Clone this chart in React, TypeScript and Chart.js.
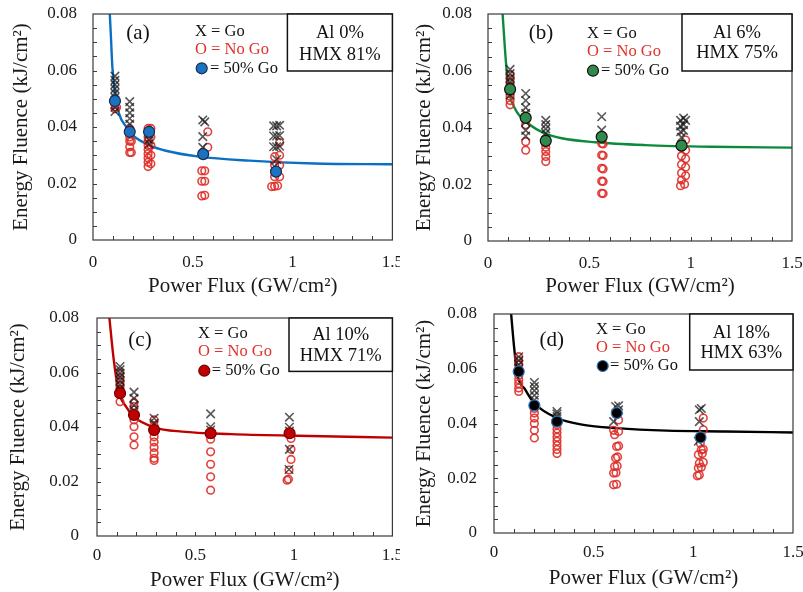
import React, { useEffect, useRef } from "react";
import { Chart, registerables } from "chart.js";
Chart.register(...registerables);

type P = [number, number];

const FONT = '"Liberation Serif", "Times New Roman", serif';
const X_TITLE = "Power Flux (GW/cm²)";
const Y_TITLE = "Energy Fluence (kJ/cm²)";
const X_TICKS = [0, 0.5, 1, 1.5];
const Y_TICKS = [0, 0.02, 0.04, 0.06, 0.08];
const LEGEND_LINES = ["X = Go", "O = No Go", "= 50% Go"];

// ---------- Panel (a) Al 0% / HMX 81% ----------
const goA: P[] = [
  [0.11, 0.058], [0.11, 0.0565], [0.11, 0.055], [0.11, 0.0535], [0.11, 0.052], [0.11, 0.0505], [0.11, 0.047], [0.11, 0.0455],
  [0.184, 0.049], [0.184, 0.047], [0.184, 0.045], [0.184, 0.043], [0.184, 0.041],
  [0.281, 0.0375], [0.281, 0.0355], [0.281, 0.034],
  [0.55, 0.0425], [0.56, 0.0418], [0.55, 0.0366], [0.55, 0.0328],
  [0.905, 0.0404], [0.92, 0.0404], [0.935, 0.0406], [0.905, 0.0368], [0.92, 0.0368], [0.935, 0.037],
  [0.905, 0.033], [0.92, 0.033], [0.935, 0.0332], [0.92, 0.0285], [0.91, 0.026],
];
const noGoA: P[] = [
  [0.11, 0.0495], [0.11, 0.048], [0.11, 0.0465], [0.118, 0.047],
  [0.184, 0.0395], [0.184, 0.038], [0.184, 0.0365], [0.184, 0.035], [0.184, 0.033], [0.184, 0.031], [0.192, 0.035], [0.192, 0.031],
  [0.276, 0.0395], [0.276, 0.038], [0.276, 0.0365], [0.276, 0.035], [0.276, 0.0335], [0.276, 0.032], [0.276, 0.0305],
  [0.276, 0.029], [0.276, 0.0275], [0.276, 0.026], [0.29, 0.0395], [0.29, 0.0365], [0.29, 0.0335], [0.29, 0.03], [0.29, 0.027],
  [0.575, 0.0383], [0.575, 0.0328], [0.55, 0.031], [0.545, 0.0245], [0.56, 0.0245], [0.545, 0.0208], [0.56, 0.0208],
  [0.545, 0.0156], [0.56, 0.0158],
  [0.91, 0.0295], [0.935, 0.0345], [0.935, 0.03], [0.91, 0.0265], [0.935, 0.0265], [0.91, 0.0224], [0.935, 0.0224],
  [0.895, 0.0189], [0.91, 0.019], [0.925, 0.0192],
];
const fiftyA: P[] = [[0.11, 0.0492], [0.184, 0.0383], [0.281, 0.0383], [0.552, 0.0304], [0.917, 0.0242]];
const curveA: P[] = [
  [0.084, 0.0802], [0.089, 0.0732], [0.097, 0.0613], [0.114, 0.0507], [0.13, 0.0448], [0.166, 0.0401], [0.197, 0.0372],
  [0.281, 0.0336], [0.365, 0.0316], [0.532, 0.0295], [0.783, 0.0281], [1.109, 0.0271], [1.5, 0.0268],
];

// ---------- Panel (b) Al 6% / HMX 75% ----------
const goB: P[] = [
  [0.109, 0.0605], [0.109, 0.059], [0.109, 0.0575], [0.109, 0.056], [0.109, 0.0545], [0.109, 0.053], [0.109, 0.0515],
  [0.186, 0.052], [0.186, 0.0495], [0.186, 0.047], [0.186, 0.045], [0.186, 0.042], [0.186, 0.039], [0.186, 0.037],
  [0.285, 0.0425], [0.285, 0.041], [0.285, 0.0395], [0.285, 0.038],
  [0.561, 0.0438], [0.561, 0.0391],
  [0.95, 0.0425], [0.965, 0.0433], [0.975, 0.0425], [0.95, 0.0405], [0.965, 0.041], [0.95, 0.0385], [0.965, 0.039], [0.955, 0.0365],
];
const noGoB: P[] = [
  [0.109, 0.0585], [0.109, 0.057], [0.109, 0.0555], [0.109, 0.054], [0.109, 0.0525], [0.109, 0.051], [0.109, 0.0495], [0.109, 0.048],
  [0.186, 0.044], [0.186, 0.041], [0.186, 0.035], [0.186, 0.032],
  [0.285, 0.036], [0.285, 0.0345], [0.285, 0.033], [0.285, 0.0315], [0.285, 0.0298], [0.285, 0.028],
  [0.561, 0.0344], [0.568, 0.0342], [0.561, 0.0303], [0.568, 0.0301], [0.561, 0.0256], [0.568, 0.0254],
  [0.561, 0.0211], [0.568, 0.021], [0.561, 0.0168], [0.568, 0.0167],
  [0.975, 0.0356], [0.955, 0.033], [0.975, 0.032], [0.955, 0.03], [0.975, 0.029], [0.955, 0.027], [0.975, 0.026],
  [0.955, 0.024], [0.975, 0.023], [0.955, 0.0215], [0.97, 0.02], [0.95, 0.0195],
];
const fiftyB: P[] = [[0.109, 0.0535], [0.186, 0.0434], [0.285, 0.0353], [0.561, 0.0367], [0.955, 0.0336]];
const curveB: P[] = [
  [0.072, 0.0802], [0.084, 0.0673], [0.1, 0.0543], [0.133, 0.0467], [0.199, 0.0414], [0.281, 0.0379], [0.364, 0.0362],
  [0.528, 0.0348], [0.775, 0.0338], [1.1, 0.0332], [1.5, 0.0329],
];

// ---------- Panel (c) Al 10% / HMX 71% ----------
const goC: P[] = [
  [0.117, 0.0622], [0.117, 0.061], [0.117, 0.0598], [0.117, 0.0585], [0.117, 0.057], [0.117, 0.0555], [0.117, 0.054],
  [0.188, 0.0528], [0.188, 0.0505], [0.188, 0.048], [0.188, 0.0462],
  [0.29, 0.0432], [0.29, 0.0414],
  [0.577, 0.0448], [0.577, 0.0401], [0.577, 0.0389],
  [0.977, 0.0436], [0.977, 0.0399], [0.977, 0.0385], [0.977, 0.0318], [0.975, 0.0244],
];
const noGoC: P[] = [
  [0.117, 0.0598], [0.117, 0.058], [0.117, 0.0565], [0.117, 0.055], [0.117, 0.0535], [0.117, 0.0493],
  [0.188, 0.049], [0.188, 0.0475], [0.188, 0.0426], [0.188, 0.0401], [0.188, 0.0364], [0.188, 0.0334],
  [0.29, 0.0426], [0.29, 0.0405], [0.29, 0.0384], [0.29, 0.0364], [0.29, 0.0345], [0.29, 0.0325], [0.29, 0.0305],
  [0.29, 0.0285], [0.29, 0.0277],
  [0.577, 0.0355], [0.577, 0.0309], [0.577, 0.0263], [0.577, 0.0217], [0.577, 0.0168],
  [0.985, 0.0358], [0.985, 0.0318], [0.985, 0.0281], [0.975, 0.0242], [0.965, 0.0205], [0.972, 0.0208],
];
const fiftyC: P[] = [[0.117, 0.0524], [0.188, 0.0444], [0.29, 0.0389], [0.577, 0.0377], [0.978, 0.0377]];
const curveC: P[] = [
  [0.063, 0.08], [0.083, 0.0659], [0.108, 0.0536], [0.15, 0.0472], [0.188, 0.0437], [0.29, 0.0399], [0.433, 0.0383],
  [0.683, 0.0374], [1.017, 0.0368], [1.5, 0.0361],
];

// ---------- Panel (d) Al 18% / HMX 63% ----------
const goD: P[] = [
  [0.124, 0.0644], [0.124, 0.063], [0.124, 0.0615], [0.124, 0.06],
  [0.2025, 0.055], [0.2025, 0.0535], [0.2025, 0.052], [0.2025, 0.0503], [0.2025, 0.0486],
  [0.316, 0.0444], [0.316, 0.0435], [0.316, 0.0425],
  [0.61, 0.0462], [0.625, 0.0465], [0.625, 0.045], [0.6, 0.0407],
  [1.03, 0.045], [1.04, 0.0455], [1.03, 0.0407], [1.025, 0.0335],
];
const noGoD: P[] = [
  [0.124, 0.0644], [0.124, 0.063], [0.124, 0.0615], [0.124, 0.0575], [0.124, 0.056], [0.124, 0.0545], [0.124, 0.053], [0.124, 0.0517],
  [0.2025, 0.0455], [0.2025, 0.0438], [0.2025, 0.042], [0.2025, 0.04], [0.2025, 0.0375], [0.2025, 0.0347],
  [0.316, 0.0395], [0.316, 0.038], [0.316, 0.0365], [0.316, 0.035], [0.316, 0.0335], [0.316, 0.032], [0.316, 0.0305], [0.316, 0.029],
  [0.625, 0.0413], [0.6, 0.0375], [0.625, 0.0371], [0.605, 0.0359], [0.615, 0.0316], [0.625, 0.0318], [0.61, 0.0274],
  [0.62, 0.0278], [0.605, 0.0243], [0.618, 0.0245], [0.6, 0.0219], [0.612, 0.022], [0.6, 0.0176], [0.615, 0.0178],
  [1.05, 0.042], [1.05, 0.0377], [1.035, 0.0328], [1.04, 0.0304], [1.05, 0.0306], [1.025, 0.0286], [1.045, 0.029],
  [1.03, 0.0255], [1.05, 0.0258], [1.025, 0.0237], [1.04, 0.024], [1.02, 0.0209], [1.03, 0.0212],
];
const fiftyD: P[] = [[0.124, 0.059], [0.2025, 0.0466], [0.316, 0.0407], [0.616, 0.0438], [1.036, 0.0349]];
const curveD: P[] = [
  [0.086, 0.08], [0.099, 0.0693], [0.116, 0.0584], [0.1575, 0.0523], [0.2025, 0.0474], [0.316, 0.042], [0.449, 0.0395],
  [0.616, 0.0383], [0.866, 0.0374], [1.158, 0.0371], [1.5, 0.0367],
];

const labelA = ["(a)", "Al 0%", "HMX 81%"];
const labelB = ["(b)", "Al 6%", "HMX 75%"];
const labelC = ["(c)", "Al 10%", "HMX 71%"];
const labelD = ["(d)", "Al 18%", "HMX 63%"];

interface PanelCfg {
  go: P[]; noGo: P[]; fifty: P[]; curve: P[]; labels: string[];
  lineColor: string; fiftyFill: string; fiftyBorder: string;
  left: number; top: number; width: number; height: number;
  yW: number; xH: number; padTop: number; padRight: number;
  yTitlePad: number; xTitlePad: number; yTickPad: number; xTickPad: number;
  tag: [number, number]; legend: [number, number, number]; legCircle: [number, number, number];
  box: [number, number]; boxLines: [number, number];
}

const panels: PanelCfg[] = [
  {
    go: goA, noGo: noGoA, fifty: fiftyA, curve: curveA, labels: labelA,
    lineColor: "#0a70c4", fiftyFill: "#1a72c0", fiftyBorder: "#1c2c4c",
    left: 0, top: 0, width: 400, height: 300, yW: 93, xH: 60, padTop: 14, padRight: 6,
    yTitlePad: 11, xTitlePad: 3, yTickPad: 16, xTickPad: 12,
    tag: [45, 19], legend: [102, 18, 17.5], legCircle: [108.7, 54.3, 117],
    box: [105, 57], boxLines: [19.3, 41],
  },
  {
    go: goB, noGo: noGoB, fifty: fiftyB, curve: curveB, labels: labelB,
    lineColor: "#0b8a3c", fiftyFill: "#2f8a4c", fiftyBorder: "#111111",
    left: 400, top: 0, width: 403, height: 300, yW: 88, xH: 59, padTop: 14, padRight: 11,
    yTitlePad: 14, xTitlePad: 3, yTickPad: 16, xTickPad: 12,
    tag: [53, 19], legend: [99, 19.3, 18.4], legCircle: [105, 56.7, 113],
    box: [110, 57], boxLines: [19.3, 39.3],
  },
  {
    go: goC, noGo: noGoC, fifty: fiftyC, curve: curveC, labels: labelC,
    lineColor: "#c00000", fiftyFill: "#c00000", fiftyBorder: "#700000",
    left: 0, top: 300, width: 400, height: 292, yW: 97, xH: 56, padTop: 18, padRight: 3,
    yTitlePad: 8, xTitlePad: 1, yTickPad: 18, xTickPad: 9,
    tag: [43, 22], legend: [101, 15.3, 18.4], legCircle: [107.3, 52.7, 114.7],
    box: [103.4, 53.4], boxLines: [16.7, 38.4],
  },
  {
    go: goD, noGo: noGoD, fifty: fiftyD, curve: curveD, labels: labelD,
    lineColor: "#000000", fiftyFill: "#000000", fiftyBorder: "#2e75b6",
    left: 400, top: 300, width: 403, height: 292, yW: 94, xH: 59, padTop: 14, padRight: 10,
    yTitlePad: 14, xTitlePad: 3, yTickPad: 17, xTickPad: 9,
    tag: [57.7, 26], legend: [102, 15.3, 18], legCircle: [108.7, 52, 116],
    box: [103.3, 56], boxLines: [19.3, 39.3],
  },
];

const toXY = (arr: P[]) => arr.map(([x, y]) => ({ x, y }));

function Panel({ cfg }: { cfg: PanelCfg }) {
  const ref = useRef<HTMLCanvasElement>(null);
  useEffect(() => {
    const decor = {
      id: "decor",
      beforeDatasetsDraw(chart: any) {
        const { ctx, chartArea: a, scales } = chart;
        ctx.save();
        ctx.strokeStyle = "#3a3a3a";
        ctx.lineWidth = 1;
        ctx.beginPath();
        for (let i = 1; i < 15; i++) {
          const px = Math.round(scales.x.getPixelForValue(i / 10)) + 0.5;
          ctx.moveTo(px, a.bottom);
          ctx.lineTo(px, a.bottom - 4);
        }
        for (let j = 1; j < 16; j++) {
          const py = Math.round(scales.y.getPixelForValue(j * 0.005)) + 0.5;
          ctx.moveTo(a.left, py);
          ctx.lineTo(a.left + 4, py);
        }
        ctx.stroke();
        ctx.restore();
      },
      afterDraw(chart: any) {
        const { ctx, chartArea: a } = chart;
        ctx.save();
        ctx.strokeStyle = "#3a3a3a";
        ctx.lineWidth = 1.2;
        ctx.strokeRect(a.left, a.top, a.right - a.left, a.bottom - a.top);
        // panel tag
        ctx.fillStyle = "#111";
        ctx.textBaseline = "middle";
        ctx.textAlign = "center";
        ctx.font = `21px ${FONT}`;
        ctx.fillText(cfg.labels[0], a.left + cfg.tag[0], a.top + cfg.tag[1]);
        // legend
        ctx.textAlign = "left";
        ctx.font = `16.5px ${FONT}`;
        ctx.fillStyle = "#111";
        ctx.fillText(LEGEND_LINES[0], a.left + cfg.legend[0], a.top + cfg.legend[1]);
        ctx.fillStyle = "#e0312b";
        ctx.fillText(LEGEND_LINES[1], a.left + cfg.legend[0], a.top + cfg.legend[1] + cfg.legend[2]);
        ctx.fillStyle = "#111";
        ctx.fillText(LEGEND_LINES[2], a.left + cfg.legCircle[2], a.top + cfg.legCircle[1]);
        ctx.beginPath();
        ctx.arc(a.left + cfg.legCircle[0], a.top + cfg.legCircle[1], 5.5, 0, Math.PI * 2);
        ctx.fillStyle = cfg.fiftyFill;
        ctx.fill();
        ctx.strokeStyle = cfg.fiftyBorder;
        ctx.lineWidth = 1.2;
        ctx.stroke();
        // composition box
        const bx = a.right - cfg.box[0];
        const by = a.top;
        ctx.fillStyle = "#fff";
        ctx.fillRect(bx, by, cfg.box[0], cfg.box[1]);
        ctx.strokeStyle = "#111";
        ctx.lineWidth = 1.5;
        ctx.strokeRect(bx, by, cfg.box[0], cfg.box[1]);
        ctx.fillStyle = "#111";
        ctx.textAlign = "center";
        ctx.font = `18.5px ${FONT}`;
        ctx.fillText(cfg.labels[1], bx + cfg.box[0] / 2, by + cfg.boxLines[0]);
        ctx.fillText(cfg.labels[2], bx + cfg.box[0] / 2, by + cfg.boxLines[1]);
        ctx.restore();
      },
    };

    const chart = new Chart(ref.current as HTMLCanvasElement, {
      type: "scatter",
      data: {
        datasets: [
          {
            label: "fit",
            data: toXY(cfg.curve),
            showLine: true,
            borderColor: cfg.lineColor,
            borderWidth: 2.4,
            pointRadius: 0,
            cubicInterpolationMode: "monotone",
            order: 3,
          } as any,
          {
            label: "No Go",
            data: toXY(cfg.noGo),
            pointStyle: "circle",
            pointRadius: 3.8,
            borderColor: "rgba(222,45,40,0.9)",
            backgroundColor: "rgba(255,255,255,0)",
            borderWidth: 1.6,
            order: 2,
          },
          {
            label: "Go",
            data: toXY(cfg.go),
            pointStyle: "crossRot",
            pointRadius: 6,
            borderColor: "rgba(25,25,25,0.72)",
            borderWidth: 1.6,
            order: 1,
          },
          {
            label: "50% Go",
            data: toXY(cfg.fifty),
            pointStyle: "circle",
            pointRadius: 5.5,
            backgroundColor: cfg.fiftyFill,
            borderColor: cfg.fiftyBorder,
            borderWidth: 1.2,
            order: 0,
          },
        ],
      },
      options: {
        responsive: false,
        animation: false,
        devicePixelRatio: 1,
        layout: { padding: { left: 0, top: cfg.padTop, right: cfg.padRight, bottom: 0 } },
        plugins: { legend: { display: false }, tooltip: { enabled: false } },
        scales: {
          x: {
            type: "linear",
            min: 0,
            max: 1.5,
            afterBuildTicks: (s: any) => { s.ticks = X_TICKS.map((v) => ({ value: v })); },
            afterFit: (s: any) => { s.height = cfg.xH; s.paddingLeft = 0; s.paddingRight = 0; },
            ticks: {
              callback: (v: any) => String(v),
              font: { family: FONT, size: 17 },
              color: "#1a1a1a",
              padding: cfg.xTickPad,
              maxRotation: 0,
              autoSkip: false,
            },
            grid: { display: false, drawTicks: false },
            border: { display: false },
            title: {
              display: true,
              text: X_TITLE,
              font: { family: FONT, size: 21, lineHeight: 1 },
              color: "#1a1a1a",
              padding: { top: 0, bottom: cfg.xTitlePad },
            },
          },
          y: {
            type: "linear",
            min: 0,
            max: 0.08,
            afterBuildTicks: (s: any) => { s.ticks = Y_TICKS.map((v) => ({ value: v })); },
            afterFit: (s: any) => { s.width = cfg.yW; s.paddingTop = 0; s.paddingBottom = 0; },
            ticks: {
              callback: (v: any) => (v === 0 ? "0" : Number(v).toFixed(2)),
              font: { family: FONT, size: 17 },
              color: "#1a1a1a",
              padding: cfg.yTickPad,
              autoSkip: false,
            },
            grid: { display: false, drawTicks: false },
            border: { display: false },
            title: {
              display: true,
              text: Y_TITLE,
              font: { family: FONT, size: 21, lineHeight: 1 },
              color: "#1a1a1a",
              padding: { top: cfg.yTitlePad, bottom: 0 },
            },
          },
        },
      } as any,
      plugins: [decor],
    });
    return () => chart.destroy();
  }, [cfg]);

  return (
    <canvas
      ref={ref}
      width={cfg.width}
      height={cfg.height}
      style={{ position: "absolute", left: cfg.left, top: cfg.top, width: cfg.width, height: cfg.height }}
    />
  );
}

export default function App() {
  return (
    <div
      style={{
        position: "fixed",
        left: 0,
        top: 0,
        width: 803,
        height: 592,
        background: "#fff",
        overflow: "hidden",
      }}
    >
      {panels.map((p, i) => (
        <Panel key={i} cfg={p} />
      ))}
    </div>
  );
}
